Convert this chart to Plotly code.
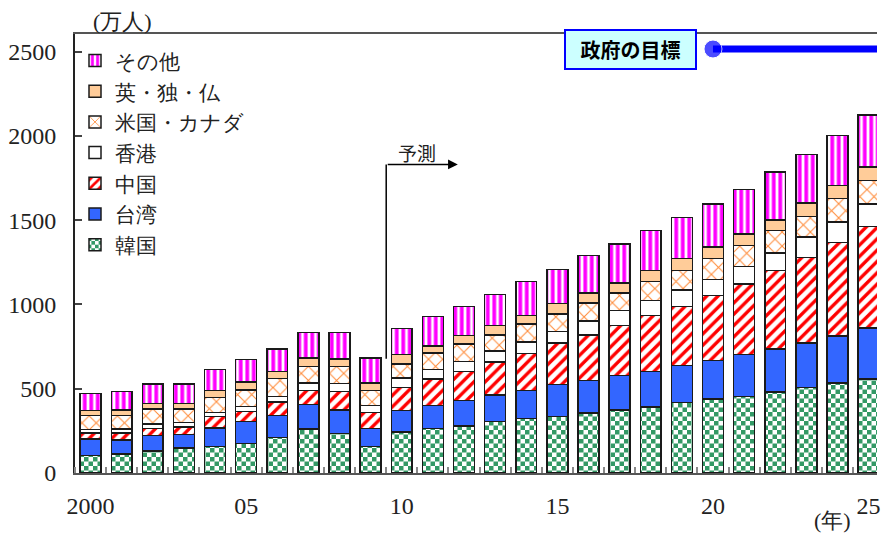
import plotly.graph_objects as go

# 訪日外国人旅行者数（万人）: 2000-2009 実績, 2010 以降 予測
years = list(range(2000, 2026))

korea = [103, 114, 132, 148, 158, 176, 211, 261, 235, 158,
         243, 263, 279, 306, 322, 336, 356, 375, 391, 419,
         439, 454, 480, 508, 534, 559]
taiwan = [99, 82, 89, 79, 109, 130, 131, 144, 140, 105,
          127, 138, 150, 158, 166, 188, 193, 202, 212, 219,
          227, 248, 255, 263, 280, 301]
china = [35, 41, 44, 46, 69, 59, 79, 83, 109, 96,
         138, 158, 174, 194, 220, 247, 271, 297, 332, 350,
         386, 419, 465, 508, 554, 603]
hongkong = [20, 24, 26, 27, 23, 30, 33, 46, 47, 40,
            55, 55, 59, 67, 69, 69, 83, 89, 89, 97,
            96, 104, 105, 121, 121, 133]
us_canada = [83, 81, 89, 80, 89, 97, 107, 98, 101, 91,
             85, 98, 103, 95, 107, 103, 105, 106, 112, 117,
             123, 125, 132, 122, 138, 138]
uk_de_fr = [31, 32, 31, 31, 40, 48, 42, 50, 44, 44,
            54, 41, 51, 55, 51, 61, 60, 58, 64, 69,
            69, 68, 65, 79, 79, 81]
others = [101, 108, 117, 117, 125, 134, 132, 150, 156, 148,
          156, 176, 172, 184, 201, 204, 221, 231, 237, 245,
          255, 264, 283, 289, 296, 310]

# 政府の目標
target_years = [2020, 2026.5]
target_values = [2515, 2515]

x_labels = ["2000", "05", "10", "15", "20", "25"]
x_label_years = [2000, 2005, 2010, 2015, 2020, 2025]

SERIF = "Liberation Serif"
SANS = "Noto Sans CJK JP"
OUTLINE = dict(color="#1a1a1a", width=1.5)

series = [
    ("韓国", korea, dict(shape="+", fgcolor="#339966", bgcolor="#ffffff",
                         size=9, solidity=0.5), "korea"),
    ("台湾", taiwan, None, "taiwan"),
    ("中国", china, dict(shape="/", fgcolor="#ff0000", bgcolor="#ffffff",
                         size=8, solidity=0.42), "china"),
    ("香港", hongkong, None, "hongkong"),
    ("米国・カナダ", us_canada, dict(shape="x", fgcolor="#ff8c3a", bgcolor="#ffffff",
                                   size=10, solidity=0.2), "uscanada"),
    ("英・独・仏", uk_de_fr, None, "ukdefr"),
    ("その他", others, dict(shape="|", fgcolor="#ff00ff", bgcolor="#ffffff",
                           size=6.5, solidity=0.58), "others"),
]
solid_colors = {"taiwan": "#3366ff", "hongkong": "#ffffff", "ukdefr": "#ffcc99"}

fig = go.Figure()
for name, vals, pattern, uid in series:
    marker = dict(line=OUTLINE)
    if pattern:
        marker["color"] = "#ffffff"
        marker["pattern"] = dict(fillmode="replace", **pattern)
    else:
        marker["color"] = solid_colors[uid]
    fig.add_trace(go.Bar(x=years, y=vals, name=name, uid=uid, marker=marker,
                         width=0.67))

fig.add_trace(go.Scatter(
    x=target_years, y=target_values, mode="lines+markers",
    line=dict(color="#0000ff", width=7),
    marker=dict(size=[18, 0], color="#0000ff"),
    showlegend=False, hoverinfo="skip", cliponaxis=True,
))

# 予測 marker: bent arrow starting between 2009 and 2010
fig.add_shape(type="line", xref="x", yref="y", x0=2009.5, x1=2009.5,
              y0=678, y1=1830, line=dict(color="#000000", width=1.5))
fig.add_annotation(x=2011.8, y=1830, ax=2009.5, ay=1830, xref="x", yref="y",
                   axref="x", ayref="y", text="", showarrow=True,
                   arrowhead=2, arrowsize=1.3, arrowwidth=1.5,
                   arrowcolor="#000000")
fig.add_annotation(x=2010.49, y=1902, xref="x", yref="y", text="予測",
                   showarrow=False, font=dict(family=SANS, size=19, color="#222"))

fig.add_annotation(x=target_years[0], y=target_values[0], xref="x", yref="y",
                   xanchor="right", xshift=-16, text="<b>政府の目標</b>",
                   showarrow=False, bgcolor="#ccffff", bordercolor="#0000ff",
                   borderwidth=2, borderpad=0, width=129, height=37,
                   font=dict(family=SANS, size=20, color="#000000"))

fig.add_annotation(x=0.059, y=1.028, xref="paper", yref="paper", text="(万人)",
                   xanchor="center", yanchor="middle",
                   showarrow=False, font=dict(family=SERIF, size=22, color="#222"))
fig.add_annotation(x=0.945, y=-0.109, xref="paper", yref="paper", text="(年)",
                   xanchor="center", yanchor="middle",
                   showarrow=False, font=dict(family=SERIF, size=22, color="#222"))

fig.update_layout(
    width=881, height=534,
    margin=dict(l=75, r=0, t=34, b=61),
    barmode="stack",
    plot_bgcolor="#ffffff", paper_bgcolor="#ffffff",
    font=dict(family=SERIF, size=24, color="#222"),
    legend=dict(x=0.0, y=0.9859, xanchor="left", yanchor="top",
                traceorder="reversed", bgcolor="rgba(0,0,0,0)",
                font=dict(family=SERIF, size=21.3, color="#222")),
    xaxis=dict(range=[1999.5, 2025.27], tickvals=x_label_years, ticktext=x_labels,
               ticks="", showgrid=False, zeroline=False, showline=True,
               linecolor="#555555", linewidth=2, mirror=True,
               tickfont=dict(family=SERIF, size=24),
               ticklabelstandoff=10, ticklabeloverflow="allow",
               minor=dict(tickvals=[y + 0.5 for y in range(1999, 2026)],
                          ticks="inside", ticklen=6, tickcolor="#888888",
                          tickwidth=1.5, showgrid=False)),
    yaxis=dict(range=[0, 2604], tickvals=[0, 500, 1000, 1500, 2000, 2500],
               ticks="inside", ticklen=7, tickcolor="#444444", tickwidth=1.5,
               tickfont=dict(family=SERIF, size=24),
               showgrid=False, zeroline=False, showline=True,
               linecolor="#222222", linewidth=2, ticklabelstandoff=12),
    showlegend=True,
)

# Checkerboard tile for the 韓国 series
checker_js = """
var gd = document.getElementById('{plot_id}');
gd.querySelectorAll('pattern').forEach(function(p){
  if(p.id.indexOf('korea') < 0) return;
  var s = 9, h = s / 2, ns = 'http://www.w3.org/2000/svg';
  while(p.firstChild) p.removeChild(p.firstChild);
  p.setAttribute('width', s); p.setAttribute('height', s);
  [[0, 0, s, s, '#ffffff'], [0, 0, h, h, '#339966'], [h, h, h, h, '#339966']].forEach(function(r){
    var e = document.createElementNS(ns, 'rect');
    e.setAttribute('x', r[0]); e.setAttribute('y', r[1]);
    e.setAttribute('width', r[2]); e.setAttribute('height', r[3]);
    e.setAttribute('fill', r[4]);
    p.appendChild(e);
  });
});
"""

fig.write_html("out.html", post_script=checker_js)
